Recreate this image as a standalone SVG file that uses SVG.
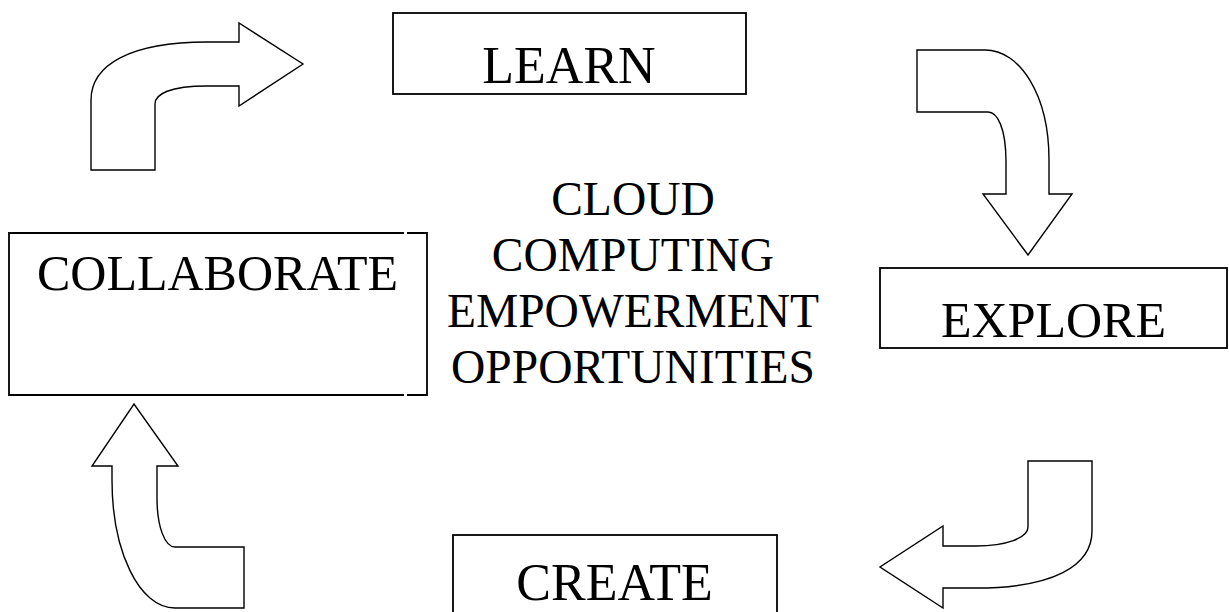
<svg xmlns="http://www.w3.org/2000/svg" width="1229" height="612" viewBox="0 0 1229 612">
  <style>
    .box { fill: #ffffff; stroke: #000000; stroke-width: 1.8; }
    .boxline { fill: none; stroke: #000000; stroke-width: 1.8; }
    .arrow { fill: #ffffff; stroke: #000000; stroke-width: 1.4; stroke-linejoin: miter; }
    .label { font-family: "Liberation Serif", "Times New Roman", serif; fill: #000000; text-anchor: middle; }
  </style>
  <rect x="0" y="0" width="1229" height="612" fill="#ffffff"/>

  <g id="connectors">
    <path id="arrow-collaborate-learn" class="arrow" d="M91,170 L91,100 C91,65 130,42 207,42 L239,42 L239,23 L303,64 L239,106 L239,86 L207,86 C170,86 155,94 155,104 L155,170 Z"/>
    <path id="arrow-learn-explore" class="arrow" d="M917,50 L985,50 C1020,50 1049,95 1049,160 L1049,194 L1072,194 L1028,255 L983,194 L1006,194 L1006,162 C1006,127 997,112 988,112 L917,112 Z"/>
    <path id="arrow-explore-create" class="arrow" d="M1028,461 L1092,461 L1092,531 C1092,566 1053,588 976,588 L943,588 L943,608 L880,567 L943,526 L943,546 L976,546 C1006,546 1028,538 1028,527 Z"/>
    <path id="arrow-create-collaborate" class="arrow" d="M244,608 L175,608 C139,608 112,551 112,480 L112,466 L92,466 L134,404 L178,466 L157,466 L157,498 C157,527 165,547 175,547 L244,547 Z"/>
  </g>

  <g id="node-learn">
    <rect class="box" x="393" y="13" width="353" height="81"/>
    <text class="label" x="569" y="83" font-size="52">LEARN</text>
  </g>

  <g id="node-explore">
    <rect class="box" x="880" y="268" width="347" height="80"/>
    <text class="label" x="1053.5" y="337" font-size="50">EXPLORE</text>
  </g>

  <g id="node-create">
    <rect class="box" x="453" y="535" width="324" height="100"/>
    <text class="label" x="614.5" y="600" font-size="52">CREATE</text>
  </g>

  <g id="node-collaborate">
    <rect x="9" y="233" width="418" height="162" fill="#ffffff"/>
    <path class="boxline" d="M404,233 L9,233 L9,395 L404,395 M407,233 L427,233 L427,395 L407,395"/>
    <text class="label" x="217.5" y="290" font-size="50">COLLABORATE</text>
  </g>

  <g id="node-center">
    <text class="label" x="633" y="215" font-size="47.5">CLOUD</text>
    <text class="label" x="633" y="271" font-size="47.5">COMPUTING</text>
    <text class="label" x="633" y="327" font-size="47.5">EMPOWERMENT</text>
    <text class="label" x="633" y="383" font-size="47.5">OPPORTUNITIES</text>
  </g>
</svg>
